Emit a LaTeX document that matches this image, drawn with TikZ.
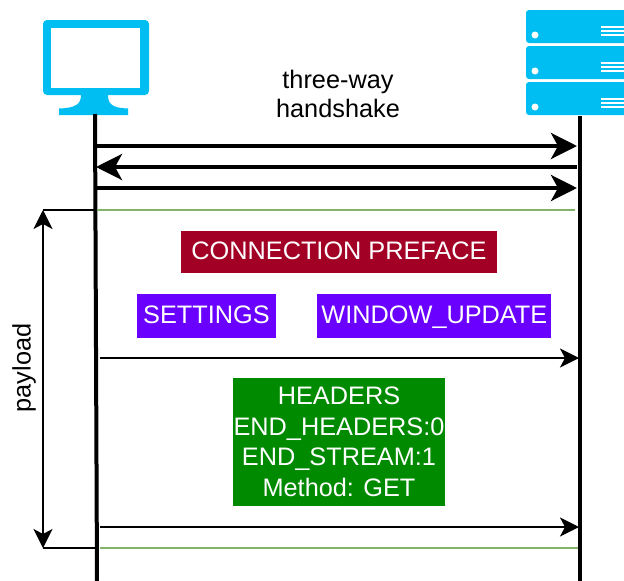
\documentclass[tikz,border=0pt]{standalone}
\usepackage{fontspec}
\setmainfont{Liberation Sans}
\usepackage{tikz}
\usetikzlibrary{arrows.meta,positioning}
\definecolor{iconblue}{HTML}{00BEF2}
\definecolor{framered}{HTML}{A20025}
\definecolor{framepurple}{HTML}{6A00FF}
\definecolor{framegreen}{HTML}{008A00}
\definecolor{linegreen}{HTML}{82B366}
\tikzset{
  frame/.style={fill=#1,text=white,inner sep=0pt,align=center,font=\fontsize{25.3}{30.5}\selectfont},
  label/.style={align=center,font=\fontsize{25.3}{29}\selectfont},
  lifeline/.style={line width=4pt},
  bigarrow/.style={line width=4pt,-{Stealth[length=26pt,width=26pt,inset=7pt]}},
  thinarrow/.style={line width=2pt,-{Stealth[length=19pt,width=19pt,inset=5pt]}},
  payarrow/.style={line width=2pt,{Stealth[length=19pt,width=19pt,inset=5pt]}-{Stealth[length=19pt,width=19pt,inset=5pt]}},
  divider/.style={line width=2.2pt,linegreen},
  rack/.style={fill=iconblue,rounded corners=3pt},
  oneline/.style={text height=18pt,text depth=3pt},
}
\begin{document}
\begin{tikzpicture}[x=1pt,y=-1pt]
   \useasboundingbox (0,0) rectangle (624,581);
   \clip (0,0) rectangle (624,581);
   % client
   \fill[iconblue,rounded corners=4pt] (43,20) rectangle (149,95);
   \fill[white] (51,28) rectangle (140,88);
   \fill[iconblue] (81,95) -- (108,95) .. controls (108,104) and (112,108) .. (128,108.5)
      -- (128,115) -- (59,115) -- (59,108.5) .. controls (76,108) and (81,104) .. (81,95) -- cycle;
   % server
   \foreach \ytop in {10,46,82} {
      \fill[rack] (526,\ytop) rectangle (640,\ytop+33);
      \fill[white] (535,\ytop+25) circle (3.5);
      \foreach \yline in {17,21,25}
         \fill[white] (601,\ytop+\yline-0.7) rectangle (624,\ytop+\yline+0.7);
   }
   \coordinate (client_top) at (95,114);
   \coordinate (client_bot) at (97,581);
   \coordinate (server_top) at (580,116);
   \coordinate (server_bot) at (580,581);
   \draw[lifeline] (client_top) -- (client_bot);
   \draw[lifeline] (server_top) -- (server_bot);

   \node[label] (handshake) at (338,93.5) {three-way\\handshake};
   \coordinate (c_1) at (96,146);
   \coordinate (s_1) at (577,146);
   \coordinate (c_2) at (96,167);
   \coordinate (s_2) at (577,167);
   \coordinate (c_3) at (96,188);
   \coordinate (s_3) at (577,188);
   \draw[bigarrow] (c_1) -- (s_1);
   \draw[bigarrow] (s_2) -- (c_2);
   \draw[bigarrow] (c_3) -- (s_3);

   \coordinate (pay_top) at (43,210);
   \coordinate (pay_bot) at (43,548);
   \coordinate (c_top) at (94,210);
   \coordinate (c_bot) at (95,548);
   \coordinate (g_1) at (97,210);
   \coordinate (h_1) at (575,210);
   \coordinate (g_2) at (100,548);
   \coordinate (h_2) at (578,548);
   \draw[line width=2pt] (pay_top) -- (c_top);
   \draw[line width=2pt] (pay_bot) -- (c_bot);
   \draw[payarrow] (pay_top) -- (pay_bot);
   \draw[divider] (g_1) -- (h_1);
   \draw[divider] (g_2) -- (h_2);
   \node[label,rotate=90] (payload) at (24,368) {payload};

   \node[frame=framered,oneline,minimum width=316pt,minimum height=42pt] (preface) at (339,252) {CONNECTION PREFACE};
   \node[frame=framepurple,oneline,minimum width=139pt,minimum height=44pt] (settings) at (206.5,316) {SETTINGS};
   \node[frame=framepurple,oneline,minimum width=234pt,minimum height=44pt] (window) [right=41pt of settings] {WINDOW\_UPDATE};
   \node[frame=framegreen,minimum width=212pt,minimum height=128pt] (headers) at (339,442)
      {HEADERS\\END\_HEADERS:0\\END\_STREAM:1\\Method: GET};

   \coordinate (c_4) at (100,358);
   \coordinate (s_4) at (579,358);
   \coordinate (c_5) at (100,527);
   \coordinate (s_5) at (579,527);
   \draw[thinarrow] (c_4) -- (s_4);
   \draw[thinarrow] (c_5) -- (s_5);
\end{tikzpicture}
\end{document}
